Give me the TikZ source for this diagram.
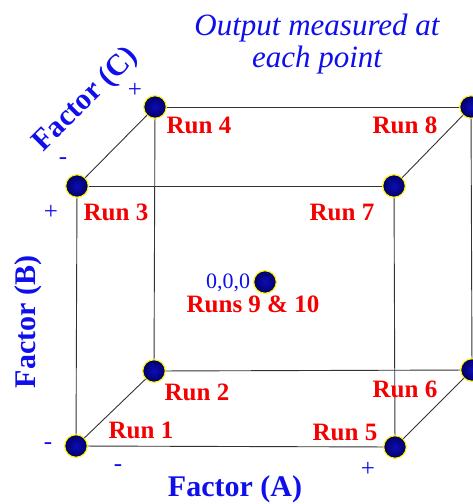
\documentclass[tikz,border=0pt]{standalone}
\usepackage{fontspec}
\setmainfont{Liberation Serif}
\newfontfamily\tnr{Liberation Serif}
\usetikzlibrary{shadings}
\definecolor{tblue}{RGB}{15,15,235}
\definecolor{tred}{RGB}{245,0,0}
\tikzset{
  pt/.style={circle, minimum size=22.5pt, inner sep=0pt, draw=yellow, line width=1.1pt, inner color=blue!70!black!95, outer color=blue!40!black},
  edge/.style={draw=black!80, line width=0.9pt},
  runlbl/.style={text=tred, font=\tnr\bfseries\fontsize{25}{25}\selectfont, inner sep=0pt, anchor=base},
  sign/.style={text=tblue, font=\tnr\fontsize{25}{25}\selectfont, inner sep=0pt},
  axislbl/.style={text=tblue, font=\tnr\bfseries\fontsize{30}{30}\selectfont, inner sep=0pt},
  titlelbl/.style={text=tblue, font=\tnr\itshape\fontsize{31}{31}\selectfont, inner sep=0pt, anchor=base},
}
\begin{document}
\begin{tikzpicture}[x=1pt, y=-1pt]
\useasboundingbox (0,0) rectangle (472,504);
% corner points
\node[pt] (r1) at (76,446) {};
\node[pt] (r3) at (77,186) {};
\node[pt] (r5) at (395,447) {};
\node[pt] (r7) at (394,186) {};
\node[pt] (r2) at (154,371) {};
\node[pt] (r4) at (155,107) {};
\node[pt] (r6) at (472,370) {};
\node[pt] (r8) at (471,107) {};
\node[pt] (c) at (265,282) {};
% edges
\draw[edge] (r1) -- (r3);
\draw[edge] (r3) -- (r7);
\draw[edge] (r7) -- (r5);
\draw[edge] (r5) -- (r1);
\draw[edge] (r2) -- (r4);
\draw[edge] (r4) -- (r8);
\draw[edge] (r8) -- (r6);
\draw[edge] (r6) -- (r2);
\draw[edge] (r1) -- (r2);
\draw[edge] (r3) -- (r4);
\draw[edge] (r5) -- (r6);
\draw[edge] (r7) -- (r8);
% run labels
\node[runlbl] (l4) at (199,133) {Run 4};
\node[runlbl] (l3) at (116,220) {Run 3};
\node[runlbl] (l8) at (405,133) {Run 8};
\node[runlbl] (l7) at (342,220) {Run 7};
\node[runlbl] (l2) at (197,400) {Run 2};
\node[runlbl] (l1) at (141,438) {Run 1};
\node[runlbl] (l6) at (405,397) {Run 6};
\node[runlbl] (l5) at (345,440) {Run 5};
\node[runlbl] (l9) at (253,312) {Runs 9 \& 10};
\node[text=tblue, font=\tnr\fontsize{22}{22}\selectfont, inner sep=0pt, anchor=base] (zero) at (228,288) {0,0,0};
% title
\node[titlelbl] (t1) at (317,35) {Output measured at};
\node[titlelbl] (t2) at (317,67) {each point};
% axis labels
\node[axislbl, anchor=base] (fa) at (235,496) {Factor (A)};
\node[axislbl, rotate=90] (fb) at (28,322) {Factor (B)};
\node[axislbl, rotate=45] (fc) at (86,100) {Factor (C)};
% signs
\node[sign] (s1) at (135,90) {+};
\node[sign] (s2) at (63,161) {-};
\node[sign] (s3) at (51,212) {+};
\node[sign] (s4) at (48,446) {-};
\node[sign] (s5) at (118,468) {-};
\node[sign] (s6) at (368,469) {+};
\end{tikzpicture}
\end{document}
